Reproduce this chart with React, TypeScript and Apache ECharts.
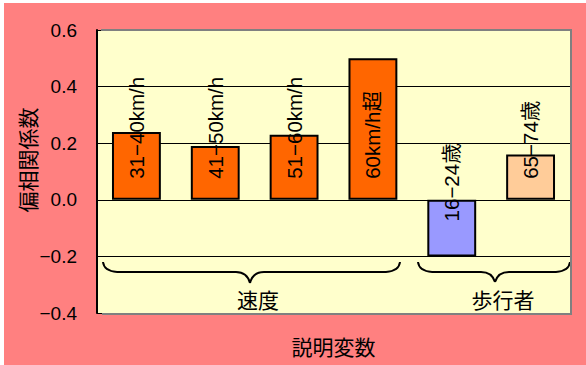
import React, { useEffect, useRef } from "react";
import * as echarts from "echarts";

const categories = ["31−40km/h", "41−50km/h", "51−60km/h", "60km/h超", "16−24歳", "65−74歳"];
const values = [0.24, 0.19, 0.23, 0.5, -0.2, 0.16];
const barColors = ["#FF6600", "#FF6600", "#FF6600", "#FF6600", "#9999FF", "#FFCC99"];
const yTicks = [-0.4, -0.2, 0.0, 0.2, 0.4, 0.6];
const groupNames = ["速度", "歩行者"];

const FONT = '"Liberation Sans", Arial, "Noto Sans CJK JP", sans-serif';

type Brace = { x1: number; x2: number; xm: number; yTop: number; yMid: number; yTip: number };

function braceElements(b: Brace) {
  const s = { stroke: "#000", lineWidth: 2, fill: "none" };
  const r = 14;
  return [
    { type: "bezierCurve", shape: { x1: b.x1, y1: b.yTop, x2: b.x1 + r, y2: b.yMid, cpx1: b.x1 + 1, cpy1: b.yMid - 1 }, style: s },
    { type: "line", shape: { x1: b.x1 + r, y1: b.yMid, x2: b.xm - r, y2: b.yMid }, style: s },
    { type: "bezierCurve", shape: { x1: b.xm - r, y1: b.yMid, x2: b.xm, y2: b.yTip, cpx1: b.xm - 3, cpy1: b.yMid }, style: s },
    { type: "bezierCurve", shape: { x1: b.xm, y1: b.yTip, x2: b.xm + r, y2: b.yMid, cpx1: b.xm + 3, cpy1: b.yMid }, style: s },
    { type: "line", shape: { x1: b.xm + r, y1: b.yMid, x2: b.x2 - r, y2: b.yMid }, style: s },
    { type: "bezierCurve", shape: { x1: b.x2 - r, y1: b.yMid, x2: b.x2, y2: b.yTop, cpx1: b.x2 - 1, cpy1: b.yMid - 1 }, style: s },
  ];
}

export default function App() {
  const ref = useRef<HTMLDivElement>(null);
  useEffect(() => {
    if (!ref.current) return;
    const chart = echarts.init(ref.current, null, { renderer: "svg" });
    const gridL = 97, gridT = 30, gridR = 570, gridB = 313;
    const option: any = {
      animation: false,
      backgroundColor: "#FFFFFF",
      textStyle: { fontFamily: FONT },
      grid: {
        left: gridL,
        top: gridT,
        right: 586 - gridR,
        bottom: 365 - gridB,
        show: true,
        backgroundColor: "#FFFFCC",
        borderWidth: 0,
        containLabel: false,
        outerBoundsMode: "none",
      },
      xAxis: {
        type: "category",
        data: categories,
        axisLine: { show: false, onZero: false },
        axisTick: { show: false },
        axisLabel: { show: false },
        splitLine: { show: false },
        name: "説明変数",
        nameLocation: "middle",
        nameGap: 24,
        nameTextStyle: { fontSize: 21, color: "#000", fontFamily: FONT },
      },
      yAxis: {
        type: "value",
        min: yTicks[0],
        max: yTicks[yTicks.length - 1],
        interval: 0.2,
        axisLine: { show: true, lineStyle: { color: "#000", width: 2 } },
        axisTick: { show: false },
        axisLabel: {
          margin: 20,
          fontSize: 19,
          color: "#000",
          fontFamily: FONT,
          formatter: (v: number) => (v < -1e-9 ? "\u2212" + Math.abs(v).toFixed(1) : Math.abs(v).toFixed(1)),
        },
        splitLine: { show: true, lineStyle: { color: "#000", width: 1 } },
      },
      series: [
        {
          type: "bar",
          barWidth: "62%",
          data: values.map((v, i) => ({
            value: v,
            itemStyle: { color: barColors[i] },
            label: { distance: v < 0 ? 35 : 21 },
          })),
          itemStyle: { borderColor: "#000", borderWidth: 2 },
          label: {
            show: true,
            position: "insideBottom",
            rotate: 90,
            align: "left",
            verticalAlign: "middle",
            distance: 21,
            fontSize: 20.5,
            color: "#000",
            fontFamily: FONT,
            formatter: (p: any) => categories[p.dataIndex],
          },
        },
      ],
      graphic: [
        { type: "rect", z: -10, silent: true, shape: { x: 4, y: 3, width: 582, height: 362 }, style: { fill: "#FF8080" } },
        {
          type: "polyline",
          z: 100,
          silent: true,
          shape: { points: [[gridL + 4, gridT], [gridR + 1, gridT], [gridR + 1, gridB + 1], [gridL + 5, gridB + 1]] },
          style: { stroke: "#808080", lineWidth: 2, fill: "none" },
        },
        {
          type: "text",
          x: 28,
          y: 160,
          rotation: Math.PI / 2,
          style: { text: "偏相関係数", fontSize: 21, fill: "#000", align: "center", verticalAlign: "middle", fontFamily: FONT },
        },
        ...braceElements({ x1: 103, x2: 400, xm: 250, yTop: 262, yMid: 272, yTip: 283 }),
        ...braceElements({ x1: 418, x2: 570, xm: 495, yTop: 262, yMid: 272, yTip: 282 }),
        {
          type: "text",
          x: 258,
          y: 300,
          style: { text: groupNames[0], fontSize: 21, fill: "#000", align: "center", verticalAlign: "middle", fontFamily: FONT },
        },
        {
          type: "text",
          x: 503,
          y: 300,
          style: { text: groupNames[1], fontSize: 21, fill: "#000", align: "center", verticalAlign: "middle", fontFamily: FONT },
        },
      ],
    };
    chart.setOption(option);
    return () => chart.dispose();
  }, []);
  return <div ref={ref} style={{ position: "fixed", left: 0, top: 0, width: 586, height: 365 }} />;
}
